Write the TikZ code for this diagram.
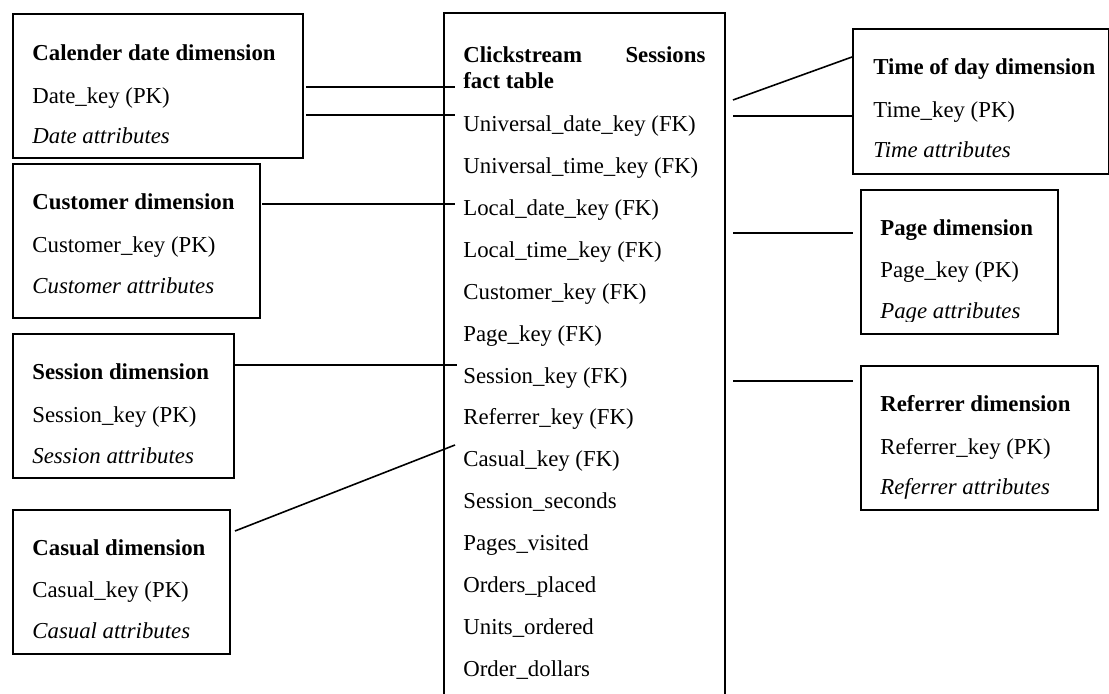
\documentclass[tikz,border=0pt]{standalone}
\usepackage{fontspec}
\setmainfont{Liberation Serif}
\begin{document}
\begin{tikzpicture}[x=0.5pt,y=-0.5pt,
  every node/.style={font=\fontsize{11.4}{13}\selectfont},
  box/.style={draw, line width=1pt, anchor=north west, inner sep=0pt},
  txt/.style={anchor=base west, inner sep=0pt},
  hd/.style={txt, font=\fontsize{11.4}{13}\selectfont\bfseries},
  attr/.style={txt, font=\fontsize{11.4}{13}\selectfont\itshape},
  link/.style={line width=0.8pt}]
\clip (0,0) rectangle (1109,694);

% ---------- fact table ----------
\draw[line width=1pt] (444,720) -- (444,13) -- (725,13) -- (725,720);
\coordinate (factNW) at (444,13);
\node[hd, text width=121pt] (facthead) at (463,62.7)
  {\hbox to 121pt{Clickstream\hfill Sessions}};
\node[hd] (facthead2) at (463,89) {fact table};
\foreach \t [count=\i from 0] in {Universal\_date\_key (FK),Universal\_time\_key (FK),
  Local\_date\_key (FK),Local\_time\_key (FK),Customer\_key (FK),Page\_key (FK),
  Session\_key (FK),Referrer\_key (FK),Casual\_key (FK),Session\_seconds,
  Pages\_visited,Orders\_placed,Units\_ordered,Order\_dollars}
  \node[txt] (f\i) at (463,131.7+41.9*\i) {\t};

% ---------- dimension boxes ----------
\node[box, minimum width=145pt, minimum height=72pt] (cal) at (12,13) {};
\node[hd] (calH) at (32,61) {Calender date dimension};
\node[txt] (calK) at (32,103.5) {Date\_key (PK)};
\node[attr] (calA) at (32,143.5) {Date attributes};

\node[box, minimum width=123.5pt, minimum height=77pt] (cust) at (12,163) {};
\node[hd] (custH) at (32,210) {Customer dimension};
\node[txt] (custK) at (32,253) {Customer\_key (PK)};
\node[attr] (custA) at (32,294) {Customer attributes};

\node[box, minimum width=110.5pt, minimum height=72pt] (sess) at (12,333) {};
\node[hd] (sessH) at (32,380) {Session dimension};
\node[txt] (sessK) at (32,423) {Session\_key (PK)};
\node[attr] (sessA) at (32,464) {Session attributes};

\node[box, minimum width=108.5pt, minimum height=72pt] (cas) at (12,509) {};
\node[hd] (casH) at (32,556) {Casual dimension};
\node[txt] (casK) at (32,598) {Casual\_key (PK)};
\node[attr] (casA) at (32,639) {Casual attributes};

\node[box, minimum width=128pt, minimum height=72.5pt] (time) at (852,28) {};
\node[hd] (timeH) at (873,75) {Time of day dimension};
\node[txt] (timeK) at (873,118) {Time\_key (PK)};
\node[attr] (timeA) at (873,158) {Time attributes};

\node[box, minimum width=98.5pt, minimum height=72pt] (page) at (860,189) {};
\node[hd] (pageH) at (880,236) {Page dimension};
\node[txt] (pageK) at (880,278) {Page\_key (PK)};
\begin{scope}
  \clip (860,300) rectangle (1057,322);
  \node[attr] (pageA) at (880,319) {Page attributes};
\end{scope}

\node[box, minimum width=118.5pt, minimum height=72pt] (ref) at (860,365) {};
\node[hd] (refH) at (880,412) {Referrer dimension};
\node[txt] (refK) at (880,455) {Referrer\_key (PK)};
\node[attr] (refA) at (880,495) {Referrer attributes};

% ---------- connector end points ----------
\coordinate (calE1) at (306,87);   \coordinate (factL1) at (455,87);
\coordinate (calE2) at (306,115);  \coordinate (factL2) at (455,115);
\coordinate (custE) at (262,204);  \coordinate (factL3) at (455,204);
\coordinate (sessE) at (235,365);  \coordinate (factL4) at (457,365);
\coordinate (casE)  at (235,531);  \coordinate (factL5) at (455,445);
\coordinate (factR1) at (733,100); \coordinate (timeW1) at (852,57);
\coordinate (factR2) at (733,116); \coordinate (timeW2) at (852,116);
\coordinate (factR3) at (733,233); \coordinate (pageW)  at (853,233);
\coordinate (factR4) at (733,381); \coordinate (refW)   at (853,381);

% ---------- connectors ----------
\draw[link] (calE1) -- (factL1);
\draw[link] (calE2) -- (factL2);
\draw[link] (custE) -- (factL3);
\draw[link] (sessE) -- (factL4);
\draw[link] (casE) -- (factL5);
\draw[link] (factR1) -- (timeW1);
\draw[link] (factR2) -- (timeW2);
\draw[link] (factR3) -- (pageW);
\draw[link] (factR4) -- (refW);
\end{tikzpicture}
\end{document}
